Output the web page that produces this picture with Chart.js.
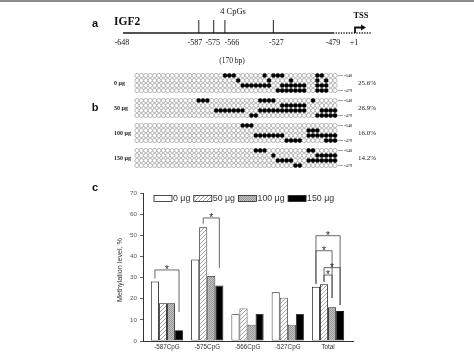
<!DOCTYPE html>
<html>
<head>
<meta charset="utf-8">
<script src="https://cdn.jsdelivr.net/npm/chart.js@4.4.1/dist/chart.umd.min.js"></script>
<style>
  body { margin: 0; background: #fff; }
  #wrap { position: relative; width: 474px; height: 354px; overflow: hidden; background: #fff; }
  #wrap canvas { position: absolute; left: 0; top: 0; }
  #topline { position: absolute; left: 0; top: 0; width: 474px; height: 2px; background: #8c8c8c; }
</style>
</head>
<body>
<div id="wrap">
  <canvas id="geneChart" width="474" height="354"></canvas>
  <canvas id="dotChart" width="474" height="354"></canvas>
  <canvas id="barChart" width="474" height="354"></canvas>
  <div id="topline"></div>
</div>
<script>
// panel a - IGF2 promoter region
const geneStart = -648, geneEnd = -479;
const cpgSites = [-587, -575, -566, -527];
const geneTickValues = [-648, -587, -575, -566, -527, -479];
const geneTickLabels = ['-648', '-587', '-575', '-566', '-527', '-479'];

// panel b - methylated clone positions (column index) for each row
const doses = ['0 μg', '50 μg', '100 μg', '150 μg'];
const totalPct = ['25.6%', '26.9%', '16.0%', '14.2%'];
const nCols = 46;
const dose0 = [
  [20, 21, 22, 29, 31, 32, 33, 41, 42],
  [23, 30, 35, 41, 43],
  [24, 25, 26, 27, 28, 29, 30, 33, 34, 35, 36, 37, 38, 41, 42, 43],
  [32, 33, 34, 35, 36, 37, 38, 41, 42, 43]
];
const dose50 = [
  [14, 15, 16, 28, 29, 30, 31, 40],
  [33, 34, 35, 36, 37, 38],
  [18, 19, 20, 21, 22, 23, 24, 28, 29, 30, 31, 32, 33, 34, 35, 36, 37, 38, 42, 43, 44, 45],
  [26, 27, 41, 42, 43, 44, 45]
];
const dose100 = [
  [24, 25, 26],
  [39, 40, 41],
  [27, 28, 29, 30, 31, 32, 33, 39, 40, 41, 42, 43, 44, 45],
  [34, 35, 36, 37, 43, 44, 45]
];
const dose150 = [
  [27, 28, 29, 39, 40],
  [31, 41, 42, 43, 44, 45],
  [32, 33, 34, 35, 39, 40, 41, 42, 43, 44, 45],
  [36, 37]
];

// panel c - methylation level (%)
const categories = ['-587CpG', '-575CpG', '-566CpG', '-527CpG', 'Total'];
const yTicks = [0, 10, 20, 30, 40, 50, 60, 70];
const level0 = [28.1, 38.5, 12.7, 23.0, 25.6];
const level50 = [17.9, 53.8, 15.4, 20.5, 26.9];
const level100 = [17.9, 30.8, 7.7, 7.7, 16.0];
const level150 = [5.1, 26.2, 12.8, 12.8, 14.2];
// significance brackets: category, from series, to series, top, left end, right end (in %)
const brackets = [
  [0, 0, 3, 33.6, 29.5, 13.7],
  [1, 1, 3, 58.2, 55.5, 34.5],
  [4, 0, 3, 49.8, 27.0, 17.0],
  [4, 0, 2, 42.7, 27.0, 20.3],
  [4, 1, 3, 34.7, 28.0, 17.0],
  [4, 1, 2, 31.2, 28.0, 20.3]
];

const SERIF = '"Liberation Serif", "Times New Roman", serif';
const SANS = '"Liberation Sans", Arial, sans-serif';

// ---------- panel a ----------
const geneText = {
  id: 'geneText',
  afterDatasetsDraw(chart) {
    const ctx = chart.ctx, x = chart.scales.x, y = chart.scales.y;
    const base = y.getPixelForValue(0), endPx = x.getPixelForValue(geneEnd);
    const tssPx = endPx + 21;
    ctx.save();
    ctx.fillStyle = '#111';
    ctx.textBaseline = 'middle';
    ctx.font = 'bold 11px ' + SANS;
    ctx.textAlign = 'center';
    ctx.fillText('a', 95, 24);
    ctx.font = 'bold 11.5px ' + SERIF;
    ctx.textAlign = 'left';
    ctx.fillText('IGF2', 114, 22);
    ctx.textAlign = 'center';
    ctx.font = '8.5px ' + SERIF;
    ctx.fillText('4 CpGs', 233, 12);
    ctx.font = 'bold 8.5px ' + SERIF;
    ctx.fillText('TSS', 361, 16);
    ctx.font = '8px ' + SERIF;
    const nudge = [-1, -4, -1, 7, 3, 0];
    geneTickValues.forEach((v, i) => {
      ctx.fillText(geneTickLabels[i], x.getPixelForValue(v) + nudge[i], base + 10);
    });
    ctx.fillText('+1', tssPx, base + 10);
    ctx.font = '7.5px ' + SERIF;
    ctx.fillText('(170 bp)', 232, 61);
    // TSS arrow
    ctx.strokeStyle = '#111';
    ctx.lineWidth = 1.8;
    ctx.beginPath();
    ctx.moveTo(tssPx + 1, base);
    ctx.lineTo(tssPx + 1, base - 5.5);
    ctx.lineTo(tssPx + 8, base - 5.5);
    ctx.stroke();
    ctx.beginPath();
    ctx.moveTo(tssPx + 12, base - 5.5);
    ctx.lineTo(tssPx + 7, base - 8.5);
    ctx.lineTo(tssPx + 7, base - 2.5);
    ctx.closePath();
    ctx.fill();
    ctx.restore();
  }
};

new Chart(document.getElementById('geneChart'), {
  type: 'line',
  data: {
    datasets: [
      { data: [{ x: geneStart, y: 0 }, { x: geneEnd, y: 0 }], borderColor: '#1a1a1a', borderWidth: 1.6, pointRadius: 0, clip: false },
      { data: [{ x: geneEnd, y: 0 }, { x: geneEnd + 31, y: 0 }], borderColor: '#1a1a1a', borderWidth: 1.6, borderDash: [1.3, 1.3], pointRadius: 0, clip: false },
      { type: 'scatter', data: cpgSites.map(v => ({ x: v, y: 0.5 })), pointStyle: 'line', rotation: 90, pointRadius: 6.5, borderColor: '#222', pointBorderWidth: 1, clip: false }
    ]
  },
  options: {
    responsive: false, animation: false, devicePixelRatio: 1, events: [],
    layout: { padding: { left: 123, right: 141, top: 20, bottom: 321 } },
    scales: {
      x: { type: 'linear', min: geneStart, max: geneEnd, display: false },
      y: { type: 'linear', min: 0, max: 1, display: false }
    },
    plugins: { legend: { display: false }, tooltip: { enabled: false } }
  },
  plugins: [geneText]
});

// ---------- panel b ----------
const groupStride = 5;
const openPts = [], fullPts = [];
[dose0, dose50, dose100, dose150].forEach((rows, g) => {
  rows.forEach((cols, r) => {
    for (let c = 0; c < nCols; c++) {
      const p = { x: c, y: g * groupStride + r };
      if (cols.includes(c)) fullPts.push(p); else openPts.push(p);
    }
  });
});

const dotText = {
  id: 'dotText',
  afterDatasetsDraw(chart) {
    const ctx = chart.ctx, x = chart.scales.x, y = chart.scales.y;
    const right = x.getPixelForValue(nCols - 1);
    ctx.save();
    ctx.fillStyle = '#222';
    ctx.strokeStyle = '#666';
    ctx.lineWidth = 0.6;
    ctx.textBaseline = 'middle';
    doses.forEach((d, g) => {
      const mid = y.getPixelForValue(g * groupStride + 1.5);
      ctx.font = 'bold 6px ' + SERIF;
      ctx.textAlign = 'left';
      ctx.fillText(d, 114, mid);
      ctx.font = '7px ' + SERIF;
      ctx.fillText(totalPct[g], 358, mid);
      [[0, '-648'], [3, '-479']].forEach(([r, t]) => {
        const yy = y.getPixelForValue(g * groupStride + r);
        ctx.beginPath();
        ctx.moveTo(right + 3, yy);
        ctx.lineTo(right + 8, yy);
        ctx.stroke();
        ctx.font = '4.5px ' + SERIF;
        ctx.fillText(t, right + 9, yy);
      });
    });
    ctx.font = 'bold 11px ' + SANS;
    ctx.textAlign = 'center';
    ctx.fillStyle = '#111';
    ctx.fillText('b', 95, 108);
    ctx.restore();
  }
};

new Chart(document.getElementById('dotChart'), {
  type: 'scatter',
  data: {
    datasets: [
      { data: openPts, pointRadius: 2.1, pointBackgroundColor: '#fff', pointBorderColor: '#8a8a8a', pointBorderWidth: 0.6, clip: false },
      { data: fullPts, pointRadius: 2.1, pointBackgroundColor: '#000', pointBorderColor: '#000', pointBorderWidth: 0.6, clip: false }
    ]
  },
  options: {
    responsive: false, animation: false, devicePixelRatio: 1, events: [],
    layout: { padding: { left: 137, right: 139, top: 75.5, bottom: 188.5 } },
    scales: {
      x: { type: 'linear', min: 0, max: nCols - 1, display: false },
      y: { type: 'linear', min: 0, max: 3 * groupStride + 3, reverse: true, display: false }
    },
    plugins: { legend: { display: false }, tooltip: { enabled: false } }
  },
  plugins: [dotText]
});

// ---------- panel c ----------
function hatchPattern() {
  const c = document.createElement('canvas');
  c.width = 4; c.height = 4;
  const g = c.getContext('2d');
  g.fillStyle = '#fff';
  g.fillRect(0, 0, 4, 4);
  g.strokeStyle = '#8a8a8a';
  g.lineWidth = 0.8;
  g.beginPath();
  g.moveTo(0, 4); g.lineTo(4, 0);
  g.moveTo(-1, 1); g.lineTo(1, -1);
  g.moveTo(3, 5); g.lineTo(5, 3);
  g.stroke();
  return g.createPattern(c, 'repeat');
}
function stipplePattern() {
  const c = document.createElement('canvas');
  c.width = 2; c.height = 2;
  const g = c.getContext('2d');
  g.fillStyle = '#c4c4c4';
  g.fillRect(0, 0, 2, 2);
  g.fillStyle = '#979797';
  g.fillRect(0, 0, 1, 1);
  g.fillRect(1, 1, 1, 1);
  return g.createPattern(c, 'repeat');
}
const fills = ['#ffffff', hatchPattern(), stipplePattern(), '#000000'];

const barExtras = {
  id: 'barExtras',
  afterDatasetsDraw(chart) {
    const ctx = chart.ctx, y = chart.scales.y, area = chart.chartArea;
    ctx.save();
    // significance brackets
    ctx.strokeStyle = '#444';
    ctx.lineWidth = 0.8;
    ctx.fillStyle = '#222';
    ctx.font = '10px ' + SANS;
    ctx.textAlign = 'center';
    ctx.textBaseline = 'alphabetic';
    brackets.forEach(([cat, from, to, top, endL, endR]) => {
      const xl = chart.getDatasetMeta(from).data[cat].x;
      const xr = chart.getDatasetMeta(to).data[cat].x;
      const yt = y.getPixelForValue(top);
      ctx.beginPath();
      ctx.moveTo(xl, y.getPixelForValue(endL));
      ctx.lineTo(xl, yt);
      ctx.lineTo(xr, yt);
      ctx.lineTo(xr, y.getPixelForValue(endR));
      ctx.stroke();
      ctx.fillText('*', (xl + xr) / 2, yt + 3);
    });
    // legend
    ctx.font = '8.8px ' + SANS;
    ctx.textAlign = 'left';
    ctx.textBaseline = 'middle';
    let lx = 154;
    const ly = 198.5;
    chart.data.datasets.forEach((ds) => {
      ctx.fillStyle = ds.backgroundColor;
      ctx.fillRect(lx, ly - 3, 18, 6);
      ctx.strokeStyle = '#222';
      ctx.lineWidth = 0.8;
      ctx.strokeRect(lx, ly - 3, 18, 6);
      ctx.fillStyle = '#333';
      ctx.fillText(ds.label, lx + 19, ly);
      lx += 19 + ctx.measureText(ds.label).width + 3.5;
    });
    // axis title and panel letter
    ctx.save();
    ctx.translate(120, (area.top + area.bottom) / 2 + 3);
    ctx.rotate(-Math.PI / 2);
    ctx.textAlign = 'center';
    ctx.font = '7.2px ' + SANS;
    ctx.fillStyle = '#333';
    ctx.fillText('Methylation level, %', 0, 0);
    ctx.restore();
    ctx.font = 'bold 11px ' + SANS;
    ctx.textAlign = 'center';
    ctx.fillStyle = '#111';
    ctx.fillText('c', 95, 188);
    ctx.restore();
  }
};

new Chart(document.getElementById('barChart'), {
  type: 'bar',
  data: {
    labels: categories.map((c, i) => i),
    datasets: [level0, level50, level100, level150].map((vals, i) => ({
      label: doses[i],
      data: vals,
      backgroundColor: fills[i],
      borderColor: '#1a1a1a',
      borderWidth: 0.9,
      borderSkipped: false,
      categoryPercentage: 0.8,
      barPercentage: 1.0
    }))
  },
  options: {
    responsive: false, animation: false, devicePixelRatio: 1, events: [],
    layout: { padding: { left: 100, right: 121, top: 193, bottom: 0 } },
    scales: {
      x: {
        type: 'linear', offset: false, min: -0.596, max: 4.62,
        afterBuildTicks: s => { s.ticks = categories.map((c, i) => ({ value: i })); },
        afterFit: s => { s.height = 13; },
        grid: { display: false, drawTicks: false },
        border: { display: true, color: '#333', width: 1 },
        ticks: {
          autoSkip: false, maxRotation: 0, padding: 2.5,
          color: '#333', font: { family: SANS, size: 6.3 },
          callback: v => categories[v]
        }
      },
      y: {
        min: 0, max: 70,
        afterBuildTicks: s => { s.ticks = yTicks.map(v => ({ value: v })); },
        afterFit: s => { s.width = 43; },
        grid: { display: true, drawOnChartArea: false, drawTicks: true, tickLength: 3, color: '#333', lineWidth: 0.8 },
        border: { display: true, color: '#333', width: 1 },
        ticks: { padding: 3, color: '#555', font: { family: SANS, size: 6.2 } }
      }
    },
    plugins: { legend: { display: false }, tooltip: { enabled: false } }
  },
  plugins: [barExtras]
});
</script>
</body>
</html>
